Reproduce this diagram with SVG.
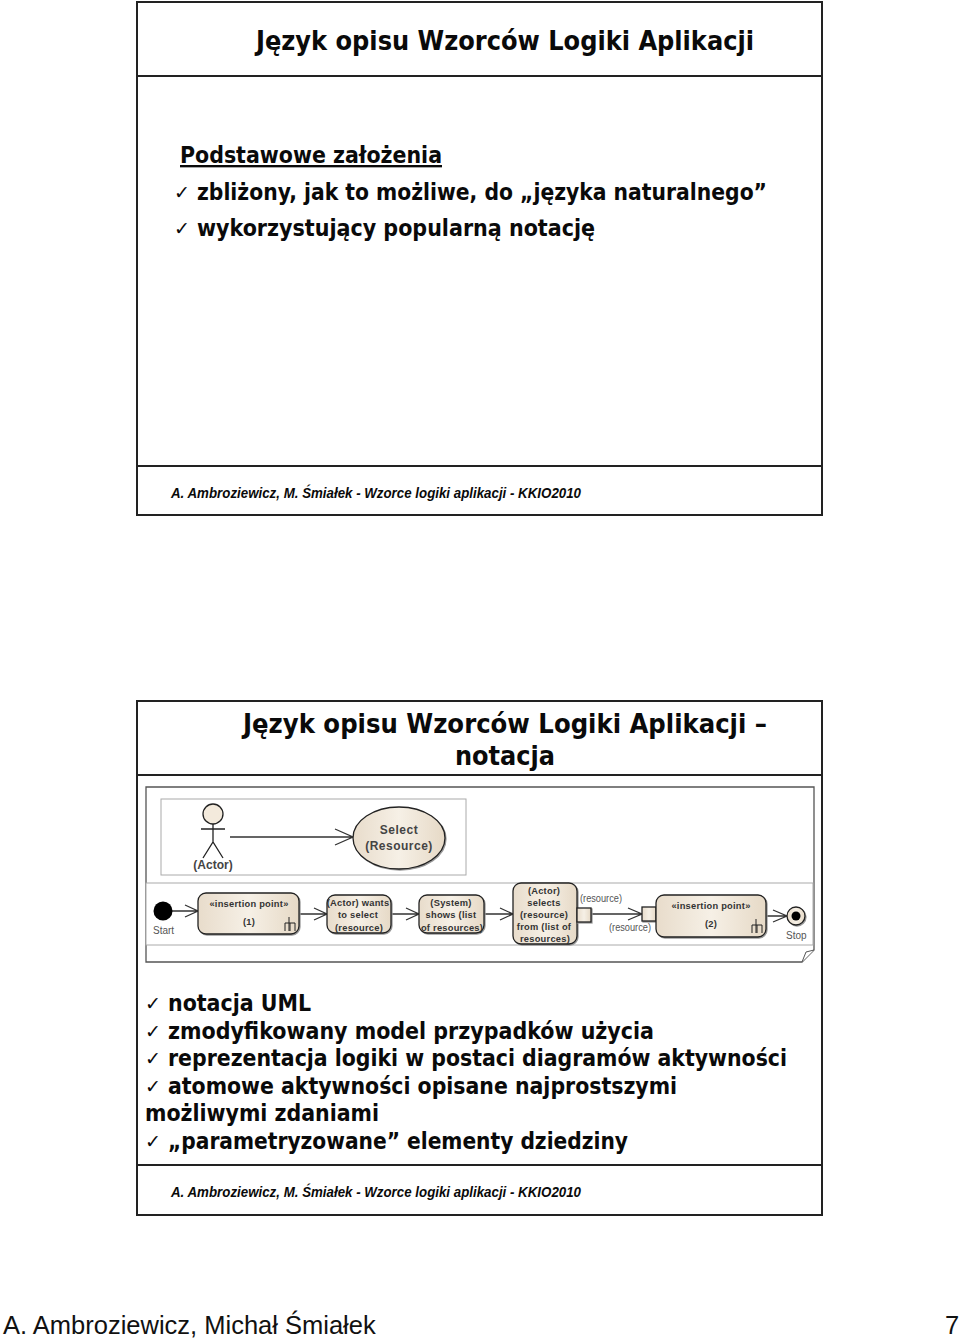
<svg xmlns="http://www.w3.org/2000/svg" width="960" height="1341" viewBox="0 0 960 1341">
<defs>
<linearGradient id="g" x1="0" y1="0" x2="1" y2="0"><stop offset="0" stop-color="#e8dccb"/><stop offset="0.5" stop-color="#f6f0e6"/><stop offset="1" stop-color="#e6d9c6"/></linearGradient>
</defs>
<style>
text{font-family:"DejaVu Sans",sans-serif;fill:#0a0a0a}
.h{font-family:"DejaVu Sans Condensed","DejaVu Sans",sans-serif;font-weight:700;font-size:26px;font-stretch:condensed}
.b{font-family:"DejaVu Sans Condensed","DejaVu Sans",sans-serif;font-weight:700;font-size:23.5px;font-stretch:condensed}
.k{font-size:19px;font-weight:400}
.f{font-family:"Liberation Sans",sans-serif;font-weight:700;font-style:italic;font-size:14px}
.n{font-family:"Liberation Sans",sans-serif;font-size:9.3px;font-weight:700;text-anchor:middle;fill:#333;letter-spacing:.25px}
.l{font-family:"Liberation Sans",sans-serif;font-size:10px;fill:#555}
.u{font-family:"Liberation Sans",sans-serif;font-size:12px;font-weight:700;fill:#444;text-anchor:middle;letter-spacing:.5px}
.p{font-family:"Liberation Sans",sans-serif;font-size:25.5px;fill:#111}
.slide{fill:#fff;stroke:#222;stroke-width:2}
.rule{stroke:#222;stroke-width:2;fill:none}
.panel{fill:#fff;stroke:#aaa;stroke-width:1}
.node{fill:url(#g);stroke:#222;stroke-width:1.3;filter:drop-shadow(1.5px 1.5px 0.5px #999)}
.c{stroke:#333;stroke-width:1.3;fill:none}
</style>
<rect width="960" height="1341" fill="#fff"/>
<g id="slide1">
<rect class="slide" x="137" y="2" width="685" height="513"/>
<line class="rule" x1="137" y1="76" x2="822" y2="76"/>
<line class="rule" x1="137" y1="466" x2="822" y2="466"/>
<text class="h" x="256" y="50" textLength="498" lengthAdjust="spacingAndGlyphs">Język opisu Wzorców Logiki Aplikacji</text>
<text class="b" x="180" y="163" textLength="262" lengthAdjust="spacingAndGlyphs" text-decoration="underline">Podstawowe założenia</text>
<text class="k" x="174" y="199">✓</text>
<text class="b" x="197" y="200" textLength="570" lengthAdjust="spacingAndGlyphs">zbliżony, jak to możliwe, do „języka naturalnego”</text>
<text class="k" x="174" y="235">✓</text>
<text class="b" x="197" y="236" textLength="398" lengthAdjust="spacingAndGlyphs">wykorzystujący popularną notację</text>
<text class="f" x="171" y="498" textLength="410" lengthAdjust="spacingAndGlyphs">A. Ambroziewicz, M. Śmiałek - Wzorce logiki aplikacji - KKIO2010</text>
</g>
<g id="slide2">
<rect class="slide" x="137" y="701" width="685" height="514"/>
<line class="rule" x1="137" y1="775" x2="822" y2="775"/>
<line class="rule" x1="137" y1="1165" x2="822" y2="1165"/>
<text class="h" x="243" y="733" textLength="524" lengthAdjust="spacingAndGlyphs">Język opisu Wzorców Logiki Aplikacji –</text>
<text class="h" x="455" y="765" textLength="100" lengthAdjust="spacingAndGlyphs">notacja</text>
<text class="k" x="145" y="1010">✓</text>
<text class="b" x="168" y="1011" textLength="143" lengthAdjust="spacingAndGlyphs">notacja UML</text>
<text class="k" x="145" y="1038">✓</text>
<text class="b" x="168" y="1039" textLength="486" lengthAdjust="spacingAndGlyphs">zmodyfikowany model przypadków użycia</text>
<text class="k" x="145" y="1065">✓</text>
<text class="b" x="168" y="1066" textLength="619" lengthAdjust="spacingAndGlyphs">reprezentacja logiki w postaci diagramów aktywności</text>
<text class="k" x="145" y="1093">✓</text>
<text class="b" x="168" y="1094" textLength="509" lengthAdjust="spacingAndGlyphs">atomowe aktywności opisane najprostszymi</text>
<text class="b" x="145" y="1121" textLength="234" lengthAdjust="spacingAndGlyphs">możliwymi zdaniami</text>
<text class="k" x="145" y="1148">✓</text>
<text class="b" x="168" y="1149" textLength="460" lengthAdjust="spacingAndGlyphs">„parametryzowane” elementy dziedziny</text>
<text class="f" x="171" y="1197" textLength="410" lengthAdjust="spacingAndGlyphs">A. Ambroziewicz, M. Śmiałek - Wzorce logiki aplikacji - KKIO2010</text>
</g>
<g id="diagram-frame">
<path d="M146 787H814V950L802 962H146Z" fill="#fff" stroke="#555" stroke-width="1.3"/>
<path d="M814 950L806 952L802 962" fill="#fff" stroke="#555" stroke-width="1"/>
<rect class="panel" x="161" y="799" width="305" height="76"/>
<rect class="panel" x="146" y="883" width="667" height="62"/>
</g>
<g id="connectors">
<path class="c" d="M230 837H353M335 829L353 837L335 845"/>
<path class="c" d="M172 911H198M185 905L198 911L185 917"/>
<path class="c" d="M299 914H327M314 908L327 914L314 920"/>
<path class="c" d="M391 914H419M406 908L419 914L406 920"/>
<path class="c" d="M484 914H513M500 908L513 914L500 920"/>
<path class="c" d="M591 914H642M628 908L642 914L628 920"/>
<path class="c" d="M766 916H787M773 910L787 916L773 922"/>
</g>
<g id="actor">
<circle cx="213" cy="814" r="10" fill="#f3eadc" stroke="#222" stroke-width="1.3"/>
<path d="M213 824V842M201 829H225M203 858L213 842L223 858" fill="none" stroke="#222" stroke-width="1.3"/>
<text class="u" x="213" y="869" style="letter-spacing:0">(Actor)</text>
</g>
<g id="usecase">
<ellipse class="node" cx="399" cy="838" rx="46" ry="31"/>
<text class="u" x="399" y="834">Select</text>
<text class="u" x="399" y="850">(Resource)</text>
</g>
<g id="start"><circle cx="163" cy="911" r="9.5" fill="#000"/><text class="l" x="153" y="934">Start</text></g>
<g id="insertion1">
<rect class="node" x="198" y="893" width="101" height="41" rx="8"/>
<text class="n" x="249" y="907">«insertion point»</text><text class="n" x="249" y="925">(1)</text>
<path d="M289 917V931M285 931V923H295V931M290 923V931" fill="none" stroke="#222"/>
</g>
<g id="a1"><rect class="node" x="327" y="895" width="64" height="38" rx="8"/>
<text class="n" x="358" y="906">(Actor) wants</text><text class="n" x="358" y="918">to select</text><text class="n" x="359" y="931">(resource)</text></g>
<g id="a2"><rect class="node" x="419" y="895" width="65" height="38" rx="8"/>
<text class="n" x="451" y="906">(System)</text><text class="n" x="451" y="918">shows (list</text><text class="n" x="452" y="931">of resources)</text></g>
<g id="a3"><rect class="node" x="513" y="883" width="64" height="61" rx="8"/>
<text class="n" x="544" y="894">(Actor)</text><text class="n" x="544" y="906">selects</text><text class="n" x="544" y="918">(resource)</text><text class="n" x="544" y="930">from (list of</text><text class="n" x="545" y="942">resources)</text></g>
<g id="pin1"><rect class="node" x="577" y="908" width="14" height="14"/><text class="l" x="580" y="902" textLength="42" lengthAdjust="spacingAndGlyphs">(resource)</text></g>
<g id="pin2"><rect class="node" x="642" y="907" width="14" height="14"/><text class="l" x="609" y="931" textLength="42" lengthAdjust="spacingAndGlyphs">(resource)</text></g>
<g id="insertion2">
<rect class="node" x="656" y="895" width="110" height="42" rx="8"/>
<text class="n" x="711" y="909">«insertion point»</text><text class="n" x="711" y="927">(2)</text>
<path d="M756 919V933M752 933V925H762V933M757 925V933" fill="none" stroke="#222"/>
</g>
<g id="stop"><circle class="node" cx="796" cy="916" r="9"/><circle cx="796" cy="916" r="4.5" fill="#000"/><text class="l" x="786" y="939">Stop</text></g>
<text id="footer-l" class="p" x="3" y="1334">A. Ambroziewicz, Michał Śmiałek</text>
<text id="footer-r" class="p" x="945" y="1334">7</text>
</svg>
